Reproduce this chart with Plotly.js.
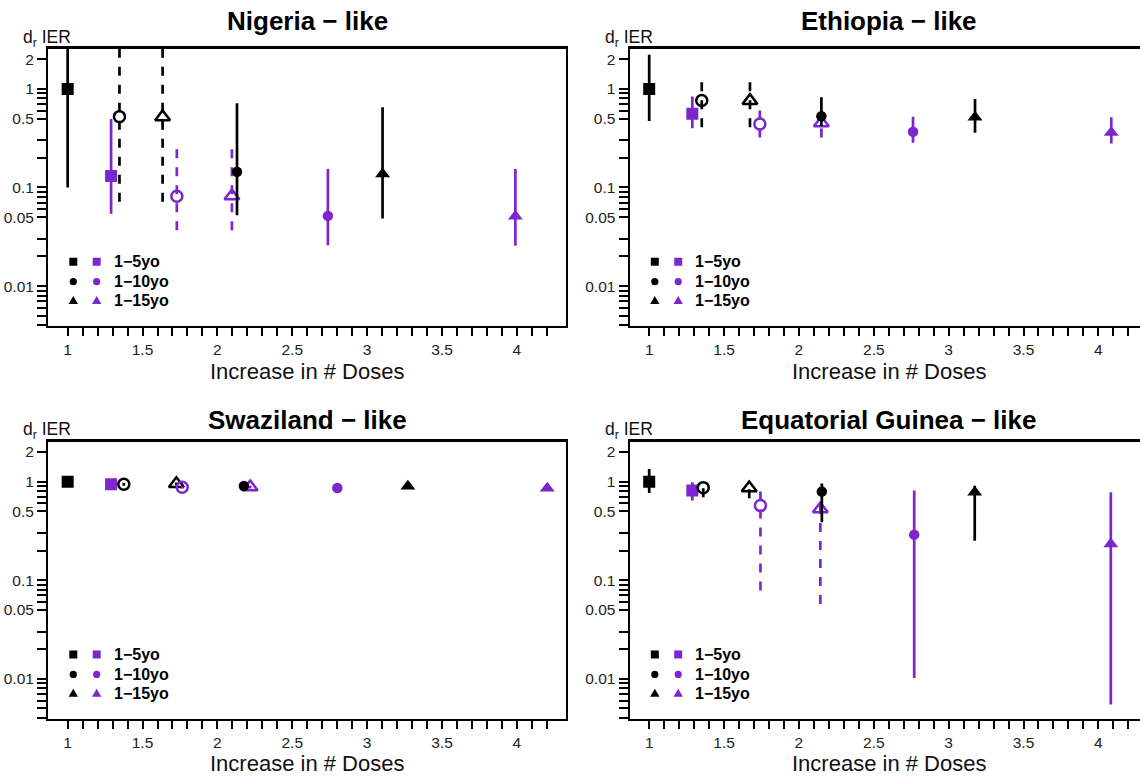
<!DOCTYPE html>
<html><head><meta charset="utf-8">
<script src="https://cdn.plot.ly/plotly-3.0.1.min.js"></script>
<style>html,body{margin:0;padding:0;overflow:hidden;background:#fff}#chart{width:1152px;height:776px}</style>
</head><body><div id="chart"></div>
<script>
// ---------- DATA ----------
const panelTitles = ["Nigeria − like", "Ethiopia − like", "Swaziland − like", "Equatorial Guinea − like"];
const ageGroups = ["1−5yo", "1−10yo", "1−15yo"];
const yAxisLabel = "d<sub>r</sub> IER";
const xAxisLabel = "Increase in # Doses";

const xTickVals = [1, 1.5, 2, 2.5, 3, 3.5, 4];
const xTickLabels = ["1", "1.5", "2", "2.5", "3", "3.5", "4"];
const xMinorTickVals = [1.1,1.2,1.3,1.4,1.6,1.7,1.8,1.9,2.1,2.2,2.3,2.4,2.6,2.7,2.8,2.9,3.1,3.2,3.3,3.4,3.6,3.7,3.8,3.9,4.1,4.2];
const yTickVals = [0.01, 0.05, 0.1, 0.5, 1, 2];
const yTickLabels = ["0.01", "0.05", "0.1", "0.5", "1", "2"];
const yMinorTickVals = [0.004,0.005,0.006,0.007,0.008,0.009,0.02,0.03,0.06,0.07,0.08,0.09,0.2,0.3,0.6,0.7,0.8,0.9];

// series (one point each per panel), in drawing order:
// 0 black square, 1 purple square, 2 black open circle, 3 black open triangle,
// 4 purple open circle, 5 purple open triangle, 6 black circle, 7 purple circle,
// 8 black triangle, 9 purple triangle
const nigeriaX  = [1, 1.29, 1.346, 1.634, 1.729, 2.097, 2.131, 2.738, 3.103, 3.99];
const nigeriaY  = [1, 0.131, 0.523, 0.52, 0.0816, 0.082, 0.144, 0.0515, 0.137, 0.051];
const nigeriaLo = [0.1, 0.054, 0.0715, 0.0715, 0.0368, 0.0368, 0.0523, 0.0259, 0.0484, 0.0256];
const nigeriaHi = [5, 0.495, 5, 5, 0.276, 0.276, 0.715, 0.154, 0.651, 0.154];

const ethiopiaX  = [1, 1.288, 1.351, 1.673, 1.739, 2.15, 2.15, 2.762, 3.176, 4.086];
const ethiopiaY  = [1, 0.561, 0.761, 0.76, 0.441, 0.45, 0.527, 0.368, 0.515, 0.362];
const ethiopiaLo = [0.473, 0.398, 0.408, 0.408, 0.322, 0.322, 0.42, 0.285, 0.36, 0.28];
const ethiopiaHi = [2.22, 0.836, 1.26, 1.26, 0.636, 0.62, 0.823, 0.523, 0.791, 0.515];

const swazilandX  = [1, 1.29, 1.375, 1.726, 1.765, 2.219, 2.177, 2.801, 3.272, 4.203];
const swazilandY  = [1.0, 0.94, 0.94, 0.95, 0.876, 0.88, 0.904, 0.863, 0.90, 0.856];
const swazilandLo = [0.97, 0.91, 0.91, 0.92, 0.85, 0.85, 0.88, 0.84, 0.87, 0.83];
const swazilandHi = [1.03, 0.97, 0.97, 0.98, 0.90, 0.91, 0.93, 0.89, 0.93, 0.88];

const eqGuineaX  = [1, 1.288, 1.361, 1.668, 1.743, 2.143, 2.153, 2.77, 3.174, 4.083];
const eqGuineaY  = [1.0, 0.811, 0.869, 0.86, 0.571, 0.528, 0.792, 0.29, 0.78, 0.233];
const eqGuineaLo = [0.768, 0.642, 0.694, 0.68, 0.0786, 0.0575, 0.387, 0.0102, 0.252, 0.0055];
const eqGuineaHi = [1.34, 0.985, 0.95, 1.0, 0.876, 0.705, 0.96, 0.811, 0.91, 0.78];

// ---------- STYLE ----------
const BLACK = "#000000", PURPLE = "#7D26CD";
const seriesColor  = [BLACK, PURPLE, BLACK, BLACK, PURPLE, PURPLE, BLACK, PURPLE, BLACK, PURPLE];
const seriesSymbol = ["square","square","circle-open","triangle-up-open","circle-open","triangle-up-open","circle","circle","triangle-up","triangle-up"];
const seriesSize   = [12, 12, 11, 13, 11, 13, 10.5, 10.5, 13, 13];
const seriesDashed = [false,false,true,true,true,true,false,false,false,false];

const panels = [
  {x: nigeriaX, y: nigeriaY, lo: nigeriaLo, hi: nigeriaHi},
  {x: ethiopiaX, y: ethiopiaY, lo: ethiopiaLo, hi: ethiopiaHi},
  {x: swazilandX, y: swazilandY, lo: swazilandLo, hi: swazilandHi},
  {x: eqGuineaX, y: eqGuineaY, lo: eqGuineaLo, hi: eqGuineaHi}
];

const W = 1152, H = 776;
const xDomains = [[0.0421, 0.4913], [0.5469, 0.9961], [0.0421, 0.4913], [0.5469, 0.9961]];
const yDomains = [[0.5799, 0.9369], [0.5799, 0.9369], [0.0738, 0.4308], [0.0738, 0.4308]];
const FONT = "Liberation Sans, Arial, Helvetica, sans-serif";

const traces = [];
const layout = {
  width: W, height: H,
  margin: {l: 0, r: 0, t: 0, b: 0},
  paper_bgcolor: "#fff", plot_bgcolor: "#fff",
  showlegend: false,
  annotations: [], shapes: [],
  font: {family: FONT, color: "#000"}
};

panels.forEach((p, i) => {
  const sfx = i === 0 ? "" : String(i + 1);
  const xa = "x" + sfx, ya = "y" + sfx;
  p.x.forEach((xv, k) => {
    traces.push({
      type: "scatter", mode: "lines", xaxis: xa, yaxis: ya,
      x: [xv, xv], y: [p.lo[k], p.hi[k]],
      line: {color: seriesColor[k], width: 2.7, dash: seriesDashed[k] ? "9px,9px" : "solid"},
      hoverinfo: "skip"
    });
    const open = seriesSymbol[k].indexOf("open") >= 0;
    traces.push({
      type: "scatter", mode: "markers", xaxis: xa, yaxis: ya,
      x: [xv], y: [p.y[k]],
      marker: {symbol: seriesSymbol[k], size: seriesSize[k], color: seriesColor[k],
               line: {color: seriesColor[k], width: open ? 2.5 : 0}}
    });
  });

  layout["xaxis" + sfx] = {
    domain: xDomains[i], anchor: ya, range: [0.872, 4.328],
    tickmode: "array", tickvals: xTickVals, ticktext: xTickLabels,
    ticks: "outside", ticklen: 8, tickwidth: 2, tickcolor: "#000",
    minor: {tickmode: "array", tickvals: xMinorTickVals, ticks: "outside", ticklen: 8, tickwidth: 2, tickcolor: "#000", showgrid: false},
    showline: true, linewidth: 2.5, linecolor: "#000", mirror: true,
    showgrid: false, zeroline: false,
    tickfont: {family: FONT, size: 15.5, color: "#222"}
  };
  layout["yaxis" + sfx] = {
    domain: yDomains[i], anchor: xa, type: "log", range: [-2.405, 0.405],
    tickmode: "array", tickvals: yTickVals, ticktext: yTickLabels,
    ticks: "outside", ticklen: 9, tickwidth: 2, tickcolor: "#000",
    minor: {tickmode: "array", tickvals: yMinorTickVals, ticks: "outside", ticklen: 9, tickwidth: 2, tickcolor: "#000", showgrid: false},
    showline: true, linewidth: 2.5, linecolor: "#000", mirror: true,
    showgrid: false, zeroline: false,
    tickfont: {family: FONT, size: 15.5, color: "#222"}
  };

  const xd = xDomains[i];
  const cx = (xd[0] + xd[1]) / 2;
  const top = i < 2;
  // panel title
  layout.annotations.push({
    xref: "paper", yref: "paper", x: cx, y: top ? 1 - 20.5 / H : 1 - 419.5 / H,
    xanchor: "center", yanchor: "middle", showarrow: false,
    text: panelTitles[i], font: {family: FONT, size: 26, weight: "bold", color: "#000"}
  });
  // x-axis title
  layout.annotations.push({
    xref: "paper", yref: "paper", x: cx, y: top ? 1 - 371 / H : 1 - 763 / H,
    xanchor: "center", yanchor: "middle", showarrow: false,
    text: xAxisLabel, font: {family: FONT, size: 22, color: "#111"}
  });
  // y-axis label above axis
  layout.annotations.push({
    xref: "paper", yref: "paper", x: (xd[0] * W + 25) / W, y: top ? 1 - 38 / H : 1 - 430 / H,
    xanchor: "right", yanchor: "middle", showarrow: false,
    text: yAxisLabel, font: {family: FONT, size: 17.5, color: "#111"}
  });

  // legend
  const rowY = [0.232, 0.160, 0.0913];
  const colX = [0.0479, 0.0931];
  const legendColors = [BLACK, PURPLE];
  ageGroups.forEach((g, r) => {
    colX.forEach((lx, c) => {
      const base = {xref: xa + " domain", yref: ya + " domain", xsizemode: "pixel", ysizemode: "pixel",
                    xanchor: lx, yanchor: rowY[r], fillcolor: legendColors[c], line: {width: 0}};
      if (r === 0) layout.shapes.push(Object.assign({type: "rect", x0: -4, x1: 4, y0: -4, y1: 4}, base));
      else if (r === 1) layout.shapes.push(Object.assign({type: "circle", x0: -3.6, x1: 3.6, y0: -3.6, y1: 3.6}, base));
      else layout.shapes.push(Object.assign({type: "path", path: "M-4.7,-3.4 L4.7,-3.4 L0,4.6 Z"}, base));
    });
    layout.annotations.push({
      xref: xa + " domain", yref: ya + " domain", x: 0.1221, y: rowY[r],
      xanchor: "left", yanchor: "middle", showarrow: false,
      text: g, font: {family: FONT, size: 16, weight: "bold", color: "#000"}
    });
  });
});

Plotly.newPlot("chart", traces, layout, {staticPlot: true, displayModeBar: false});
</script>
</body></html>
